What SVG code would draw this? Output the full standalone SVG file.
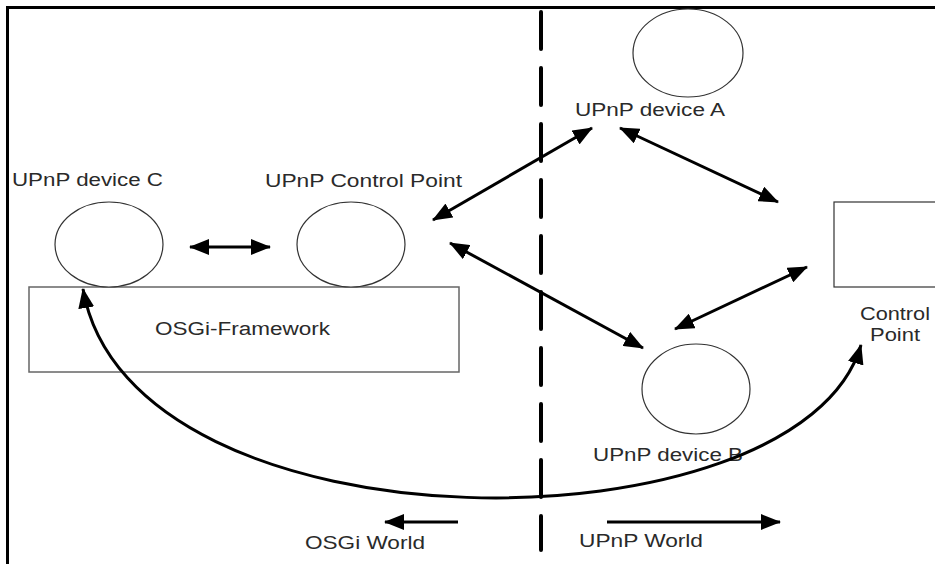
<svg xmlns="http://www.w3.org/2000/svg" width="935" height="564" viewBox="0 0 935 564">
<style>
  .lbl { font-family: "Liberation Sans", Arial, sans-serif; font-size: 18px; fill: #2a2a2a; }
  .node { fill: #ffffff; stroke: #333333; stroke-width: 1.2; }
  .box { fill: #ffffff; stroke: #666666; stroke-width: 1.5; }
  .conn { fill: none; stroke: #000000; stroke-width: 3; }
</style>
<defs>
  <marker id="ah" markerUnits="userSpaceOnUse" markerWidth="20" markerHeight="16" refX="19" refY="8" orient="auto-start-reverse">
    <path d="M0,0 L20,8 L0,16 Z" fill="#000000"/>
  </marker>
</defs>
<rect x="0" y="0" width="935" height="564" fill="#ffffff"/>
<g id="frame">
  <line x1="7" y1="7.5" x2="935" y2="7.5" stroke="#000" stroke-width="3"/>
  <line x1="7.5" y1="6" x2="7.5" y2="564" stroke="#000" stroke-width="3"/>
</g>
<g id="divider">
  <line x1="541" y1="12" x2="541" y2="550" stroke="#000" stroke-width="4" stroke-linecap="round" stroke-dasharray="37 19"/>
</g>
<g id="osgi-framework">
  <rect class="box" x="29" y="287" width="430" height="85"/>
  <text class="lbl" x="155" y="335" textLength="175" lengthAdjust="spacingAndGlyphs">OSGi-Framework</text>
</g>
<g id="device-c">
  <ellipse class="node" cx="109" cy="244.5" rx="54" ry="42.5"/>
  <text class="lbl" x="12" y="186" textLength="151" lengthAdjust="spacingAndGlyphs">UPnP device C</text>
</g>
<g id="upnp-control-point">
  <ellipse class="node" cx="351" cy="244.5" rx="54" ry="42.5"/>
  <text class="lbl" x="265" y="187" textLength="197" lengthAdjust="spacingAndGlyphs">UPnP Control Point</text>
</g>
<g id="device-a">
  <ellipse class="node" cx="688" cy="53" rx="55" ry="44"/>
  <text class="lbl" x="575" y="116" textLength="150" lengthAdjust="spacingAndGlyphs">UPnP device A</text>
</g>
<g id="device-b">
  <ellipse class="node" cx="696" cy="389" rx="54" ry="45"/>
  <text class="lbl" x="593" y="461" textLength="150" lengthAdjust="spacingAndGlyphs">UPnP device B</text>
</g>
<g id="control-point">
  <rect class="node" x="834" y="202" width="110" height="85"/>
  <text class="lbl" x="860" y="320" textLength="70" lengthAdjust="spacingAndGlyphs">Control</text>
  <text class="lbl" x="870" y="341" textLength="50" lengthAdjust="spacingAndGlyphs">Point</text>
</g>
<g id="world-labels">
  <text class="lbl" x="305" y="549" textLength="120" lengthAdjust="spacingAndGlyphs">OSGi World</text>
  <text class="lbl" x="579" y="547" textLength="124" lengthAdjust="spacingAndGlyphs">UPnP World</text>
</g>
<g id="connectors">
  <line class="conn" x1="190" y1="247" x2="270" y2="247" marker-start="url(#ah)" marker-end="url(#ah)"/>
  <line class="conn" x1="433" y1="220" x2="592" y2="128" marker-start="url(#ah)" marker-end="url(#ah)"/>
  <line class="conn" x1="450" y1="243" x2="643" y2="348" marker-start="url(#ah)" marker-end="url(#ah)"/>
  <line class="conn" x1="620" y1="128" x2="778" y2="202" marker-start="url(#ah)" marker-end="url(#ah)"/>
  <line class="conn" x1="675" y1="329" x2="807" y2="267" marker-start="url(#ah)" marker-end="url(#ah)"/>
  <path class="conn" d="M83,289 C130,560 800,555 861,345" marker-start="url(#ah)" marker-end="url(#ah)"/>
  <line class="conn" x1="458" y1="522" x2="385" y2="522" marker-end="url(#ah)"/>
  <line class="conn" x1="607" y1="522" x2="780" y2="522" marker-end="url(#ah)"/>
</g>
</svg>
